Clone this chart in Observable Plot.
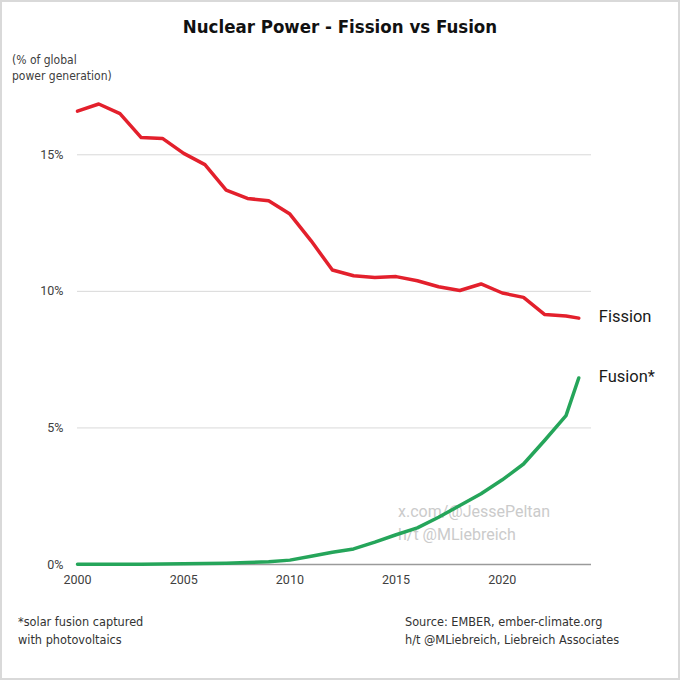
<!DOCTYPE html>
<html><head><meta charset="utf-8">
<script src="https://cdn.jsdelivr.net/npm/d3@7"></script>
<script src="https://cdn.jsdelivr.net/npm/@observablehq/plot@0.6"></script>
<style>
body{margin:0;background:#fff}
#wrap{position:relative;width:680px;height:680px;overflow:hidden;background:#fff}
#frame{position:absolute;left:0;top:0;width:680px;height:680px;box-sizing:border-box;border:2px solid #d9d9d9;pointer-events:none}
.t{position:absolute;white-space:nowrap;font-family:"Liberation Sans Narrow","DejaVu Sans Condensed",sans-serif;color:#333}
#title{left:0;width:680px;text-align:center;top:15px;font-size:18.5px;line-height:24px;font-weight:bold;color:#111}
.ylab{left:12px;font-size:12px;line-height:16px;color:#404040}
.foot{font-size:12.6px;line-height:17.5px;color:#333}
#wm{position:absolute;left:398px;top:500px;font-family:Roboto,sans-serif;font-size:16px;line-height:23px;color:#cbcbcb;white-space:nowrap}
#plot{position:absolute;left:0;top:0}
</style></head><body>
<div id="wrap">
<div id="wm">x.com/@JessePeltan<br>h/t @MLiebreich</div>
<div id="plot"></div>
<div class="t" id="title">Nuclear Power - Fission vs Fusion</div>
<div class="t ylab" style="top:52px">(% of global<br>power generation)</div>
<div class="t foot" style="left:18px;top:613px">*solar fusion captured<br>with photovoltaics</div>
<div class="t foot" style="left:405px;top:613px">Source: EMBER, ember-climate.org<br>h/t @MLiebreich, Liebreich Associates</div>
<div id="frame"></div>
</div>
<script>
const years = [2000,2001,2002,2003,2004,2005,2006,2007,2008,2009,2010,2011,2012,2013,2014,2015,2016,2017,2018,2019,2020,2021,2022,2023,2023.6];
const fission = [16.6,16.86,16.51,15.63,15.6,15.05,14.64,13.71,13.4,13.32,12.83,11.85,10.78,10.57,10.51,10.54,10.39,10.17,10.03,10.27,9.94,9.78,9.15,9.1,9.02];
const fusion = [0.01,0.01,0.01,0.01,0.02,0.03,0.04,0.05,0.07,0.1,0.16,0.3,0.45,0.57,0.82,1.09,1.34,1.73,2.16,2.59,3.1,3.68,4.55,5.45,6.83];
const seriesNames = ["Fission","Fusion*"];
const seriesColors = ["#e3202c","#25a55a"];
const xTicks = [2000,2005,2010,2015,2020];
const yTicks = [0,5,10,15];

const rows = years.flatMap((yr,i)=>[
  {year:yr,value:fission[i],series:seriesNames[0]},
  {year:yr,value:fusion[i],series:seriesNames[1]}
]);

const chart = Plot.plot({
  width:680,height:680,
  marginLeft:77,marginRight:89,marginTop:86,marginBottom:116,
  style:{background:"transparent",fontFamily:"Roboto, sans-serif",fontSize:"12.5px",color:"#404040"},
  x:{domain:[2000,2024.2],ticks:xTicks,tickFormat:d=>String(d),tickSize:0,tickPadding:11,label:null},
  y:{domain:[0,17.5],ticks:yTicks,tickFormat:d=>d+"%",tickSize:0,tickPadding:14,label:null},
  color:{domain:seriesNames,range:seriesColors},
  marks:[
    Plot.gridY(yTicks.filter(d=>d>0),{stroke:"#d9d9d9",strokeOpacity:1}),
    Plot.ruleY([0],{stroke:"#9a9a9a",strokeWidth:1.3}),
    Plot.line(rows,{x:"year",y:"value",stroke:"series",strokeWidth:3.5,strokeLinejoin:"round"}),
    Plot.text(rows,Plot.selectLast({x:"year",y:"value",z:"series",text:"series",dx:20,dy:-1,textAnchor:"start",fontSize:16.5,fill:"#1a1a1a",fontFamily:"Roboto, sans-serif"}))
  ]
});
document.getElementById("plot").appendChild(chart);
</script>
</body></html>
